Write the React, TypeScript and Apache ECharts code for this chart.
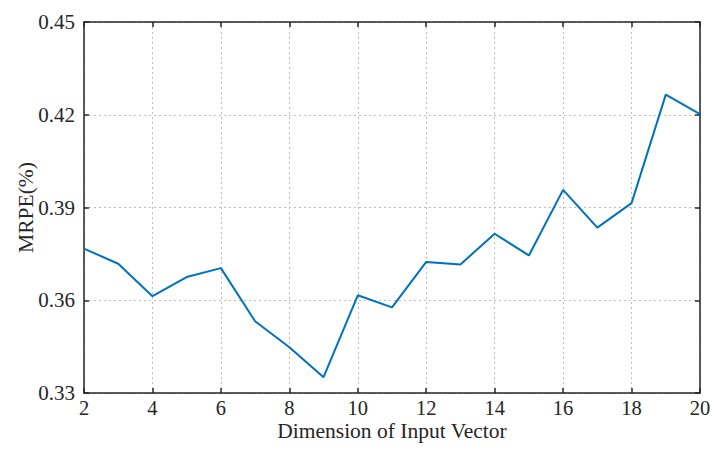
import React, { useEffect, useRef } from "react";
import * as echarts from "echarts";

const dims = [2, 3, 4, 5, 6, 7, 8, 9, 10, 11, 12, 13, 14, 15, 16, 17, 18, 19, 20];
const mrpe = [0.3767, 0.3718, 0.3613, 0.3675, 0.3704, 0.3532, 0.3448, 0.3351, 0.3616, 0.3577, 0.3724, 0.3716, 0.3815, 0.3745, 0.3957, 0.3835, 0.3914, 0.4265, 0.4202];
const xTitle = "Dimension of Input Vector";
const yTitle = "MRPE(%)";

export default function App() {
  const ref = useRef<HTMLDivElement>(null);
  useEffect(() => {
    if (!ref.current) return;
    const chart = echarts.init(ref.current, null, { renderer: "svg" });
    const font = "'Liberation Serif', 'Times New Roman', serif";
    const axisLine = { show: true, lineStyle: { color: "#262626", width: 1.5 } };
    const tick = { show: true, inside: true, length: 5, lineStyle: { color: "#262626", width: 1.5 } };
    chart.setOption({
      animation: false,
      backgroundColor: "#fff",
      grid: { left: 84, right: 12, top: 22, bottom: 59, containLabel: false, outerBoundsMode: "none" },
      xAxis: [
        {
          type: "value", min: 2, max: 20, interval: 2,
          name: xTitle, nameLocation: "middle", nameGap: 30, nameMoveOverlap: false,
          nameTextStyle: { fontFamily: font, fontSize: 21.5, lineHeight: 16, color: "#262626" },
          axisLine, axisTick: tick,
          axisLabel: { fontFamily: font, fontSize: 20.5, lineHeight: 16, color: "#262626", margin: 7 },
          splitLine: { show: true, lineStyle: { color: "#bdbdbd", type: [2, 3], width: 1 } },
        },
        {
          type: "value", min: 2, max: 20, interval: 2, position: "top",
          axisLine, axisTick: tick, axisLabel: { show: false }, splitLine: { show: false },
        },
      ],
      yAxis: [
        {
          type: "value", min: 0.33, max: 0.45, interval: 0.03,
          name: yTitle, nameLocation: "middle", nameGap: 47, nameMoveOverlap: false,
          nameTextStyle: { fontFamily: font, fontSize: 21.5, color: "#262626" },
          axisLine, axisTick: tick,
          axisLabel: { fontFamily: font, fontSize: 21, color: "#262626", margin: 9, formatter: (v: number) => v.toFixed(2) },
          splitLine: { show: true, lineStyle: { color: "#bdbdbd", type: [2, 3], width: 1 } },
        },
        {
          type: "value", min: 0.33, max: 0.45, interval: 0.03, position: "right",
          axisLine, axisTick: tick, axisLabel: { show: false }, splitLine: { show: false },
        },
      ],
      series: [
        {
          type: "line",
          data: dims.map((d, i) => [d, mrpe[i]]),
          showSymbol: false,
          lineStyle: { color: "#0072BD", width: 2 },
          itemStyle: { color: "#0072BD" },
        },
      ],
    });
    return () => chart.dispose();
  }, []);
  return <div ref={ref} style={{ width: 712, height: 452, position: "absolute", left: 0, top: 0 }} />;
}
